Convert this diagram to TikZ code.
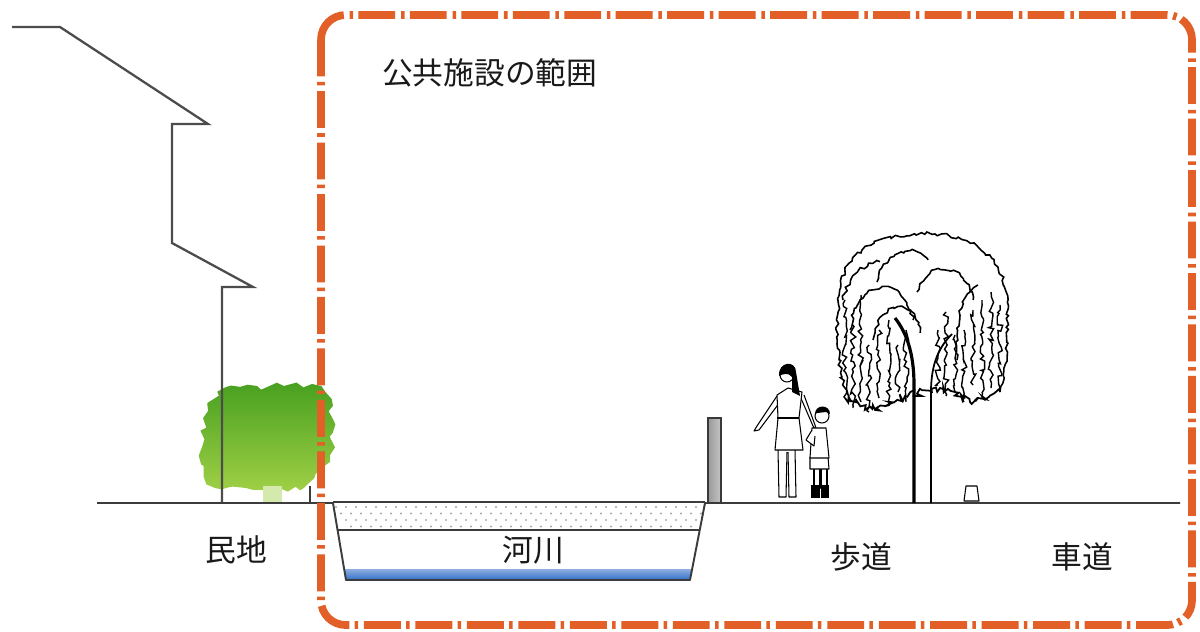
\documentclass[tikz,border=0pt]{standalone}
\usepackage{fontspec}
\setmainfont{Noto Sans CJK JP}
\usepackage{tikz}
\usetikzlibrary{positioning,decorations.pathmorphing}

\definecolor{rangeorange}{RGB}{226,96,40}
\definecolor{leafdark}{RGB}{72,160,32}
\definecolor{leaflight}{RGB}{160,208,70}
\definecolor{waterblue}{RGB}{50,110,200}
\definecolor{inkgrey}{RGB}{60,60,60}

\begin{document}
\begin{tikzpicture}[x=0.02cm,y=-0.02cm,
    areatext/.style={font=\fontsize{17.5}{20}\selectfont,text=black!90},
    ground/.style={draw=inkgrey,line width=1.1pt,line join=round},
    rough/.style={decorate,decoration={random steps,segment length=2pt,amplitude=1pt}},
    strand/.style={rough,line width=0.8pt,decoration={amplitude=1.6pt}},
    person/.style={draw=black,fill=white,line width=0.6pt,line join=round}]
  \pgfmathsetseed{11}
  \useasboundingbox (0,0) rectangle (1200,632);

  % hedge in front of the house
  \shade[decorate,decoration={random steps,segment length=4pt,amplitude=2.4pt},
    top color=leafdark,bottom color=leaflight]
    (262,490) -- (215,488) .. controls (196,470) and (196,402) .. (225,388)
    -- (312,384) .. controls (342,396) and (342,470) .. (300,490) -- cycle;
  \fill[leaflight!45] (263,486) rectangle (282,503);

  % house outline
  \draw[draw=gray!60!black,line width=1.3pt,line join=miter]
    (12,27) -- (60,27) -- (208,124) -- (172,124) -- (172,243)
    -- (253,287) -- (222,287) -- (222,503);

  % river
  \begin{scope}
    \clip (333,503) -- (705,503) -- (700,530) -- (338,530) -- cycle;
    \foreach \r in {0,...,3}
      \foreach \c in {0,...,38}
        \fill[gray!70] ({336+\c*10+\r*5},{507+\r*6.5}) circle (0.7pt);
  \end{scope}
  \shade[top color=waterblue!55,bottom color=waterblue]
    (344,569) -- (692,569) -- (690,580) -- (346,580) -- cycle;
  \draw[ground,line width=0.8pt] (338,530) -- (700,530);
  \draw[ground,line width=0.8pt] (333,502) -- (705,502);
  \draw[ground] (97,503) -- (333,503) -- (346,580) -- (690,580) -- (705,503) -- (1180,503);
  \draw[ground,line width=0.8pt] (310,486) -- (310,503);

  % bollard
  \shade[left color=gray!80,right color=gray!45,draw=gray!45!black,line width=0.6pt]
    (708,418) rectangle (721,503);

  % mother
  \draw[person] (777,396) -- (757,426) -- (754,431) -- (759,430) -- (780,402);
  \draw[person] (800,396) -- (813,426) -- (818,434) -- (815,425) -- (804,395);
  \draw[person] (778,450) -- (779,497) -- (786,497) -- (787,452);
  \draw[person] (788,452) -- (789,497) -- (796,497) -- (795,450);
  \draw[person] (777,395) -- (788,388) -- (802,392) -- (799,418)
    -- (803,450) -- (775,450) -- (778,418) -- cycle;
  \draw[person] (777,418) -- (799,418);
  \draw[person] (787,375) circle (0.14cm);
  \fill (779,376) .. controls (778,361) and (796,360) .. (796,372)
    -- (800,396) -- (792,392) -- (792,377) .. controls (788,372) and (783,374) .. cycle;

  % child
  \draw[person] (814,467) rectangle (820,488);
  \draw[person] (821,467) rectangle (827,488);
  \fill (811,485) rectangle (820,498);
  \fill (821,485) rectangle (829,498);
  \draw[person] (810,457) -- (828,457) -- (829,469) -- (810,469) -- cycle;
  \draw[person] (812,428) -- (826,428) -- (829,458) -- (810,458) -- cycle;
  \draw[person] (812,430) -- (806,440) -- (814,446) -- (815,436);
  \draw[person] (822,416) circle (0.14cm);
  \fill (815,414) .. controls (815,404) and (830,404) .. (830,414) -- (826,412) -- (817,413) -- cycle;

  % willow trunk
  \draw[line width=1.8pt] (914,503) -- (914,385) .. controls (914,352) and (906,332) .. (895,318);
  \draw[line width=1pt] (931,503) -- (931,392) .. controls (931,362) and (940,346) .. (952,334);

  % willow crown
  \begin{scope}[line width=0.9pt]
    \draw[rough] (850,402) .. controls (834,370) and (834,300) .. (845,270)
      .. controls (860,240) and (900,232) .. (935,234)
      .. controls (975,236) and (1002,260) .. (1006,292)
      .. controls (1010,330) and (1006,370) .. (1000,392);
    \draw[rough] (877,282) .. controls (882,252) and (915,242) .. (928,260);
    \draw[rough] (917,292) .. controls (925,262) and (965,258) .. (973,300);
    \draw[rough] (850,330) .. controls (855,280) and (905,270) .. (913,320);
    \draw[rough] (873,340) .. controls (878,300) and (915,295) .. (920,333);
    \draw[rough] (843,300) .. controls (850,270) and (870,262) .. (880,262);
    \draw[rough] (957,360) .. controls (955,320) and (960,300) .. (978,285);
    \foreach \sx/\sa/\sb in {845/300/398, 853/325/408, 861/295/402, 869/345/412,
        879/330/398, 889/320/406, 898/345/392, 906/330/402, 938/330/385,
        946/312/396, 955/335/392, 964/330/402, 973/310/385, 982/300/398,
        991/292/388, 1000/305/392}
      \draw[strand] (\sx,\sa) -- (\sx,\sb);
    \draw[decorate,decoration={random steps,segment length=1.5pt,amplitude=2.2pt},line width=1pt]
      (845,398) -- (875,410) -- (905,396) -- (940,388) -- (970,402) -- (1000,392);
  \end{scope}

  % planter
  \draw[person] (966,486) -- (977,486) -- (979,501) -- (964,501) -- cycle;

  % public facilities boundary
  \draw[rangeorange,line width=4.4pt,rounded corners=14pt,
    dash pattern=on 21pt off 3pt on 2pt off 3.3pt]
    (321,15) rectangle (1192,625);

  \node[areatext,anchor=west] (kokyo) at (376,73) {公共施設の範囲};
  \node[areatext] (minchi) at (236,550) {民地};
  \node[areatext] (kasen) at (533,550) {河川};
  \node[areatext] (hodou) at (861,557) {歩道};
  \node[areatext] (shadou) at (1082,557) {車道};
\end{tikzpicture}
\end{document}
